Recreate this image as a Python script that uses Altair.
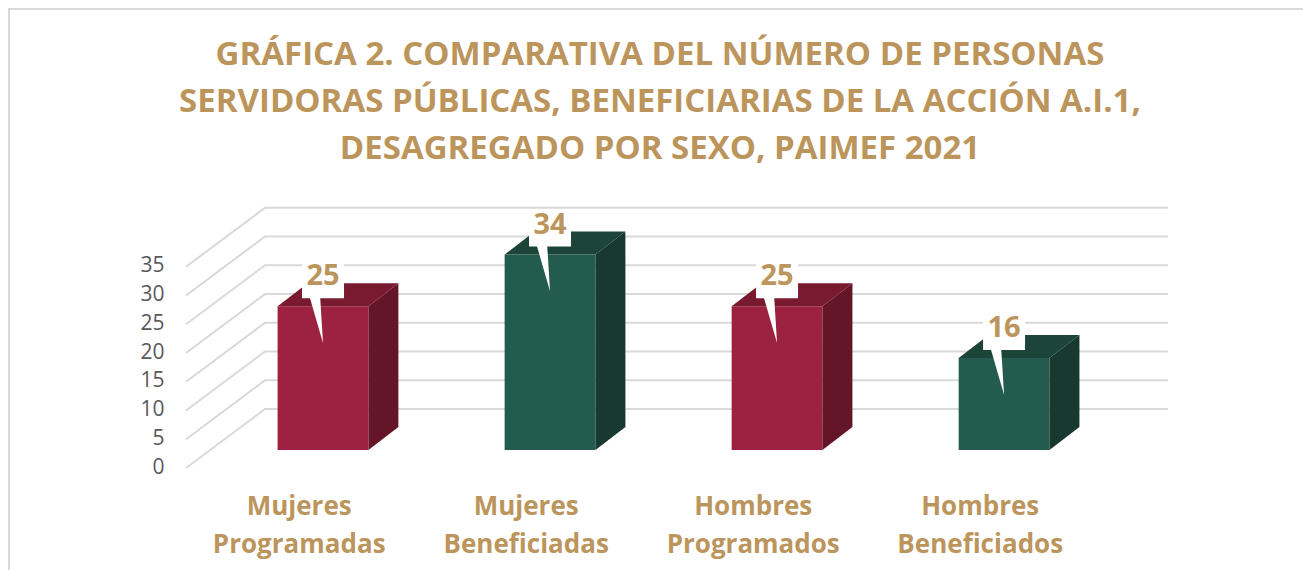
import altair as alt
import pandas as pd

# ---------------- data ----------------
title_lines = [
    "GRÁFICA 2. COMPARATIVA DEL NÚMERO DE PERSONAS",
    "SERVIDORAS PÚBLICAS, BENEFICIARIAS DE LA ACCIÓN A.I.1,",
    "DESAGREGADO POR SEXO, PAIMEF 2021",
]
categories = ["Mujeres Programadas", "Mujeres Beneficiadas",
              "Hombres Programados", "Hombres Beneficiados"]
values = [25, 34, 25, 16]
series = ["Programadas", "Beneficiadas", "Programadas", "Beneficiadas"]
y_ticks = [0, 5, 10, 15, 20, 25, 30, 35]

# ---------------- styles ----------------
GOLD = "#BC955C"
GRID = "#D9D9D9"
FONT = "Open Sans"
front_col = {"Programadas": "#9D2140", "Beneficiadas": "#235B4E"}
side_col = {"Programadas": "#641628", "Beneficiadas": "#17392F"}
top_col = {"Programadas": "#7A1A30", "Beneficiadas": "#1C4439"}

# pseudo-3D geometry (x in category units, y in value units)
HALF = 0.2
DX, DY = 0.132, 4.0
BACK_X0, BACK_X1, BACK_DY = -0.2555, 3.722, 7.13
FRONT_X0, FRONT_DY = -0.6035, -3.13
LABEL_SHIFT = -0.105
BOX_HALF, BOX_LO, BOX_HI = 0.0925, 1.4, 7.7

xscale = alt.Scale(domain=[-0.63, 3.775], nice=False, zero=False)
yscale = alt.Scale(domain=[-3.478, 43.478], nice=False, zero=False)
yaxis = alt.Axis(values=y_ticks, domain=False, ticks=False, grid=False,
                 labelFont=FONT, labelFontSize=21, labelColor="#595959",
                 labelPadding=16, labelOffset=17, title=None)

# bars
bars = pd.DataFrame({"cat": categories, "value": values, "series": series})
bars["pos"] = range(len(bars))
bars["x0"] = bars["pos"] - HALF
bars["x1"] = bars["pos"] + HALF
bars["y0"] = 0.0
bars["fill"] = bars["series"].map(front_col)
bars["lx"] = bars["pos"] + LABEL_SHIFT
bars["ly"] = -9.9
bars["bx0"] = bars["pos"] - BOX_HALF
bars["bx1"] = bars["pos"] + BOX_HALF
bars["by0"] = bars["value"] + BOX_LO
bars["by1"] = bars["value"] + BOX_HI
bars["ty"] = bars["value"] + 5.2

# side + top faces
face_rows = []
for i, (v, s) in enumerate(zip(values, series)):
    x0, x1 = i - HALF, i + HALF
    sid = f"side{i}"
    face_rows += [
        dict(id=sid, x=x1, y=v, y2=0.0, fill=side_col[s]),
        dict(id=sid, x=x1 + DX, y=v + DY, y2=DY, fill=side_col[s]),
    ]
    tid = f"top{i}"
    face_rows += [
        dict(id=tid, x=x0, y=v, y2=v, fill=top_col[s]),
        dict(id=tid, x=x0 + DX, y=v + DY, y2=v, fill=top_col[s]),
        dict(id=tid, x=x1, y=v + DY, y2=v, fill=top_col[s]),
        dict(id=tid, x=x1 + DX, y=v + DY, y2=v + DY, fill=top_col[s]),
    ]
faces = pd.DataFrame(face_rows)

# callout pointers
ptr_rows = []
for i, v in enumerate(values):
    pid = f"p{i}"
    ptr_rows += [
        dict(id=pid, x=i - 0.0617, y=v + 2.0, y2=v + 2.0),
        dict(id=pid, x=i - 0.0132, y=v + 2.0, y2=v - 4.6),
        dict(id=pid, x=i, y=v - 6.4, y2=v - 6.4),
    ]
ptrs = pd.DataFrame(ptr_rows)

# 3D grid lines (floor diagonal + back wall)
grid_rows = []
for k in y_ticks:
    grid_rows += [
        dict(id=k, o=0, x=FRONT_X0, y=k + FRONT_DY),
        dict(id=k, o=1, x=BACK_X0, y=k + BACK_DY),
        dict(id=k, o=2, x=BACK_X1, y=k + BACK_DY),
    ]
grid = pd.DataFrame(grid_rows)
axis_df = pd.DataFrame({"tick": y_ticks})

axis_layer = alt.Chart(axis_df).mark_point(opacity=0).encode(
    x=alt.value(0),
    y=alt.Y("tick:Q", scale=yscale, axis=yaxis),
)

grid_layer = alt.Chart(grid).mark_line(color=GRID, strokeWidth=2).encode(
    x=alt.X("x:Q", scale=xscale, axis=None),
    y=alt.Y("y:Q", scale=yscale, axis=yaxis),
    detail="id:N",
    order="o:Q",
)

front_layer = alt.Chart(bars).mark_rect().encode(
    x=alt.X("x0:Q", scale=xscale, axis=None), x2="x1:Q",
    y=alt.Y("y0:Q", scale=yscale, axis=yaxis), y2="value:Q",
    fill=alt.Fill("fill:N", scale=None),
)

face_layer = alt.Chart(faces).mark_area(orient="vertical", opacity=1,
                                        interpolate="linear").encode(
    x=alt.X("x:Q", scale=xscale, axis=None),
    y=alt.Y("y:Q", scale=yscale, axis=yaxis, stack=None), y2="y2:Q",
    fill=alt.Fill("fill:N", scale=None),
    detail="id:N",
)

ptr_layer = alt.Chart(ptrs).mark_area(orient="vertical", opacity=1,
                                      color="white").encode(
    x=alt.X("x:Q", scale=xscale, axis=None),
    y=alt.Y("y:Q", scale=yscale, axis=yaxis, stack=None), y2="y2:Q",
    detail="id:N",
)

box_layer = alt.Chart(bars).mark_rect(color="white").encode(
    x=alt.X("bx0:Q", scale=xscale, axis=None), x2="bx1:Q",
    y=alt.Y("by0:Q", scale=yscale, axis=yaxis), y2="by1:Q",
)

val_layer = alt.Chart(bars).mark_text(
    font=FONT, fontSize=29, fontWeight="bold", color=GOLD, baseline="middle"
).encode(
    x=alt.X("pos:Q", scale=xscale, axis=None),
    y=alt.Y("ty:Q", scale=yscale, axis=yaxis),
    text="value:Q",
)

cat_layer = alt.Chart(bars).mark_text(
    font=FONT, fontSize=26, fontWeight="bold", color=GOLD, baseline="middle",
    lineBreak=" ", lineHeight=38,
).encode(
    x=alt.X("lx:Q", scale=xscale, axis=None),
    y=alt.Y("ly:Q", scale=yscale, axis=yaxis),
    text="cat:N",
)

frame_left = alt.Chart(axis_df).mark_rule(color=GRID, strokeWidth=2).encode(
    x=alt.value(-171), y=alt.value(-191), y2=alt.value(372))
frame_top = alt.Chart(axis_df).mark_rule(color=GRID, strokeWidth=2).encode(
    x=alt.value(-172), x2=alt.value(1125), y=alt.value(-191))

chart = alt.layer(
    axis_layer, grid_layer, front_layer, face_layer, ptr_layer, box_layer,
    val_layer, cat_layer, frame_left, frame_top,
).properties(
    width=1000, height=270,
    padding={"left": 172, "top": 192, "right": 123, "bottom": 100},
    autosize=alt.AutoSizeParams(type="none"),
    title=alt.TitleParams(
        text=title_lines, font=FONT, fontSize=33, fontWeight="bold",
        color=GOLD, lineHeight=47, anchor="middle", frame="group",
        dx=-20, offset=-158,
    ),
).configure(background="white").configure_view(stroke=None)

chart.save("out.html", embed_options={"renderer": "svg", "actions": False})
